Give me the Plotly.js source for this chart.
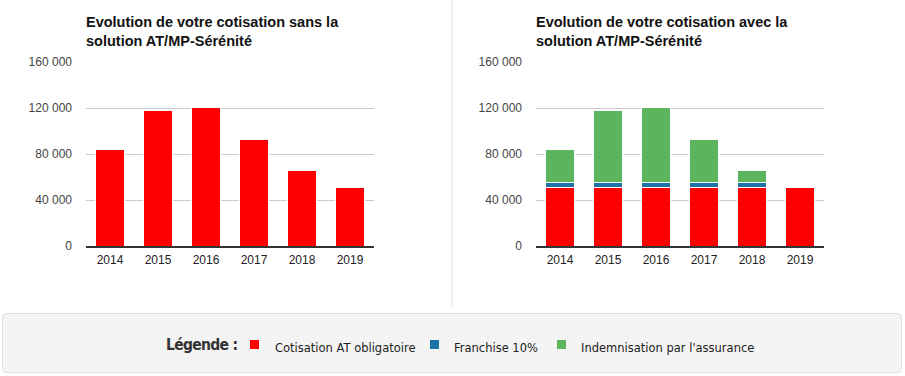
<!DOCTYPE html>
<html>
<head>
<meta charset="utf-8">
<script src="https://cdn.plot.ly/plotly-3.0.1.min.js"></script>
<style>
  html, body { margin: 0; padding: 0; background: #ffffff; }
  #chart { width: 905px; height: 376px; }
</style>
</head>
<body>
<div id="chart"></div>
<script>
// ---- Data ----
const years = ['2014', '2015', '2016', '2017', '2018', '2019'];
const cotisationSans = [83500, 117500, 120500, 93000, 66000, 50500];
const cotisationObligatoire = [50500, 50500, 50500, 50500, 50500, 50500];
const franchise = [5050, 5050, 5050, 5050, 5050, 0];
const indemnisation = [27950, 61950, 64950, 37450, 10450, 0];
const yTickVals = [0, 40000, 80000, 120000, 160000];
const yTickText = ['0', '40 000', '80 000', '120 000', '160 000'];
const titleLeft = 'Evolution de votre cotisation sans la<br>solution AT/MP-Sérénité';
const titleRight = 'Evolution de votre cotisation avec la<br>solution AT/MP-Sérénité';
const legendTitle = 'Légende :';
const seriesNames = ['Cotisation AT obligatoire', 'Franchise 10%', "Indemnisation par l'assurance"];
const seriesColors = ['#ff0000', '#1a74a6', '#5cb45c'];

// ---- Helpers (pixel -> paper) ----
const W = 905, H = 376;
const px = v => v / W;
const py = v => 1 - v / H;

const tickFont = { family: 'Liberation Sans, Arial, sans-serif', size: 12, color: '#444' };
const xTickFont = { family: 'Liberation Sans, Arial, sans-serif', size: 12, color: '#222' };

function yAxis(anchor) {
  return {
    domain: [py(246), py(62)],
    range: [0, 160000],
    tickvals: yTickVals,
    ticktext: yTickText,
    tickfont: tickFont,
    gridcolor: '#cccccc',
    gridwidth: 1,
    zeroline: false,
    showline: false,
    ticks: '',
    ticklabelstandoff: 13,
    anchor: anchor,
    fixedrange: true
  };
}
function xAxis(d0, d1, anchor) {
  return {
    domain: [px(d0), px(d1)],
    type: 'category',
    showline: true,
    linecolor: '#333333',
    linewidth: 2,
    showgrid: false,
    zeroline: false,
    ticks: '',
    ticklabelstandoff: 2,
    tickfont: xTickFont,
    anchor: anchor,
    fixedrange: true
  };
}

const whiteLine = { color: '#ffffff', width: 1 };

const traces = [
  { type: 'bar', x: years, y: cotisationSans, xaxis: 'x', yaxis: 'y',
    marker: { color: seriesColors[0], line: whiteLine }, name: seriesNames[0], showlegend: false },
  { type: 'bar', x: years, y: cotisationObligatoire, xaxis: 'x2', yaxis: 'y2',
    marker: { color: seriesColors[0], line: whiteLine }, name: seriesNames[0], showlegend: false },
  { type: 'bar', x: years, y: franchise, xaxis: 'x2', yaxis: 'y2',
    marker: { color: seriesColors[1], line: whiteLine }, name: seriesNames[1], showlegend: false },
  { type: 'bar', x: years, y: indemnisation, xaxis: 'x2', yaxis: 'y2',
    marker: { color: seriesColors[2], line: whiteLine }, name: seriesNames[2], showlegend: false }
];

// rounded legend box path in paper coords
function roundRect(x0, y0, x1, y1, r) {
  const X = v => px(v), Y = v => py(v);
  return 'M' + X(x0 + r) + ',' + Y(y0) +
    ' L' + X(x1 - r) + ',' + Y(y0) +
    ' Q' + X(x1) + ',' + Y(y0) + ' ' + X(x1) + ',' + Y(y0 + r) +
    ' L' + X(x1) + ',' + Y(y1 - r) +
    ' Q' + X(x1) + ',' + Y(y1) + ' ' + X(x1 - r) + ',' + Y(y1) +
    ' L' + X(x0 + r) + ',' + Y(y1) +
    ' Q' + X(x0) + ',' + Y(y1) + ' ' + X(x0) + ',' + Y(y1 - r) +
    ' L' + X(x0) + ',' + Y(y0 + r) +
    ' Q' + X(x0) + ',' + Y(y0) + ' ' + X(x0 + r) + ',' + Y(y0) + ' Z';
}

const legendSquareX = [250, 430, 557];
const legendTextX = [273, 452, 579];

const shapes = [
  { type: 'line', xref: 'paper', yref: 'paper', x0: px(452), x1: px(452), y0: py(0), y1: py(307),
    line: { color: '#dddddd', width: 1 } },
  { type: 'path', xref: 'paper', yref: 'paper', path: roundRect(2.5, 313.5, 901.5, 372.5, 4),
    fillcolor: '#f4f4f4', line: { color: '#e0e0e0', width: 1 } }
];
legendSquareX.forEach((sx, i) => {
  shapes.push({ type: 'rect', xref: 'paper', yref: 'paper',
    x0: px(sx), x1: px(sx + 9), y0: py(340), y1: py(349),
    fillcolor: seriesColors[i], line: { width: 0 } });
});

const titleFont = { family: 'Liberation Sans, Arial, sans-serif', size: 14.5, color: '#111' };
const annotations = [
  { xref: 'paper', yref: 'paper', x: px(84), y: py(12), xanchor: 'left', yanchor: 'top', align: 'left',
    showarrow: false, text: '<b>' + titleLeft + '</b>', font: titleFont },
  { xref: 'paper', yref: 'paper', x: px(534), y: py(12), xanchor: 'left', yanchor: 'top', align: 'left',
    showarrow: false, text: '<b>' + titleRight + '</b>', font: titleFont },
  { xref: 'paper', yref: 'paper', x: px(164), y: py(345), xanchor: 'left', yanchor: 'middle',
    showarrow: false,
    text: '<b><span style="letter-spacing:-0.7px">' + legendTitle + '</span></b>',
    font: { family: 'DejaVu Sans Condensed, Liberation Sans Narrow, sans-serif', size: 15.5, color: '#333' } }
];
legendTextX.forEach((tx, i) => {
  annotations.push({ xref: 'paper', yref: 'paper', x: px(tx), y: py(348), xanchor: 'left', yanchor: 'middle',
    showarrow: false, text: seriesNames[i],
    font: { family: 'DejaVu Sans, Verdana, sans-serif', size: 11.5, color: '#222' } });
});

const layout = {
  width: W, height: H,
  margin: { l: 0, r: 0, t: 0, b: 0, pad: 0 },
  paper_bgcolor: '#ffffff',
  plot_bgcolor: 'rgba(0,0,0,0)',
  barmode: 'stack',
  bargap: 0.4,
  showlegend: false,
  xaxis: xAxis(86, 374, 'y'),
  yaxis: yAxis('x'),
  xaxis2: xAxis(536, 824, 'y2'),
  yaxis2: yAxis('x2'),
  shapes: shapes,
  annotations: annotations
};

Plotly.newPlot('chart', traces, layout, { staticPlot: true, displayModeBar: false });
</script>
</body>
</html>
